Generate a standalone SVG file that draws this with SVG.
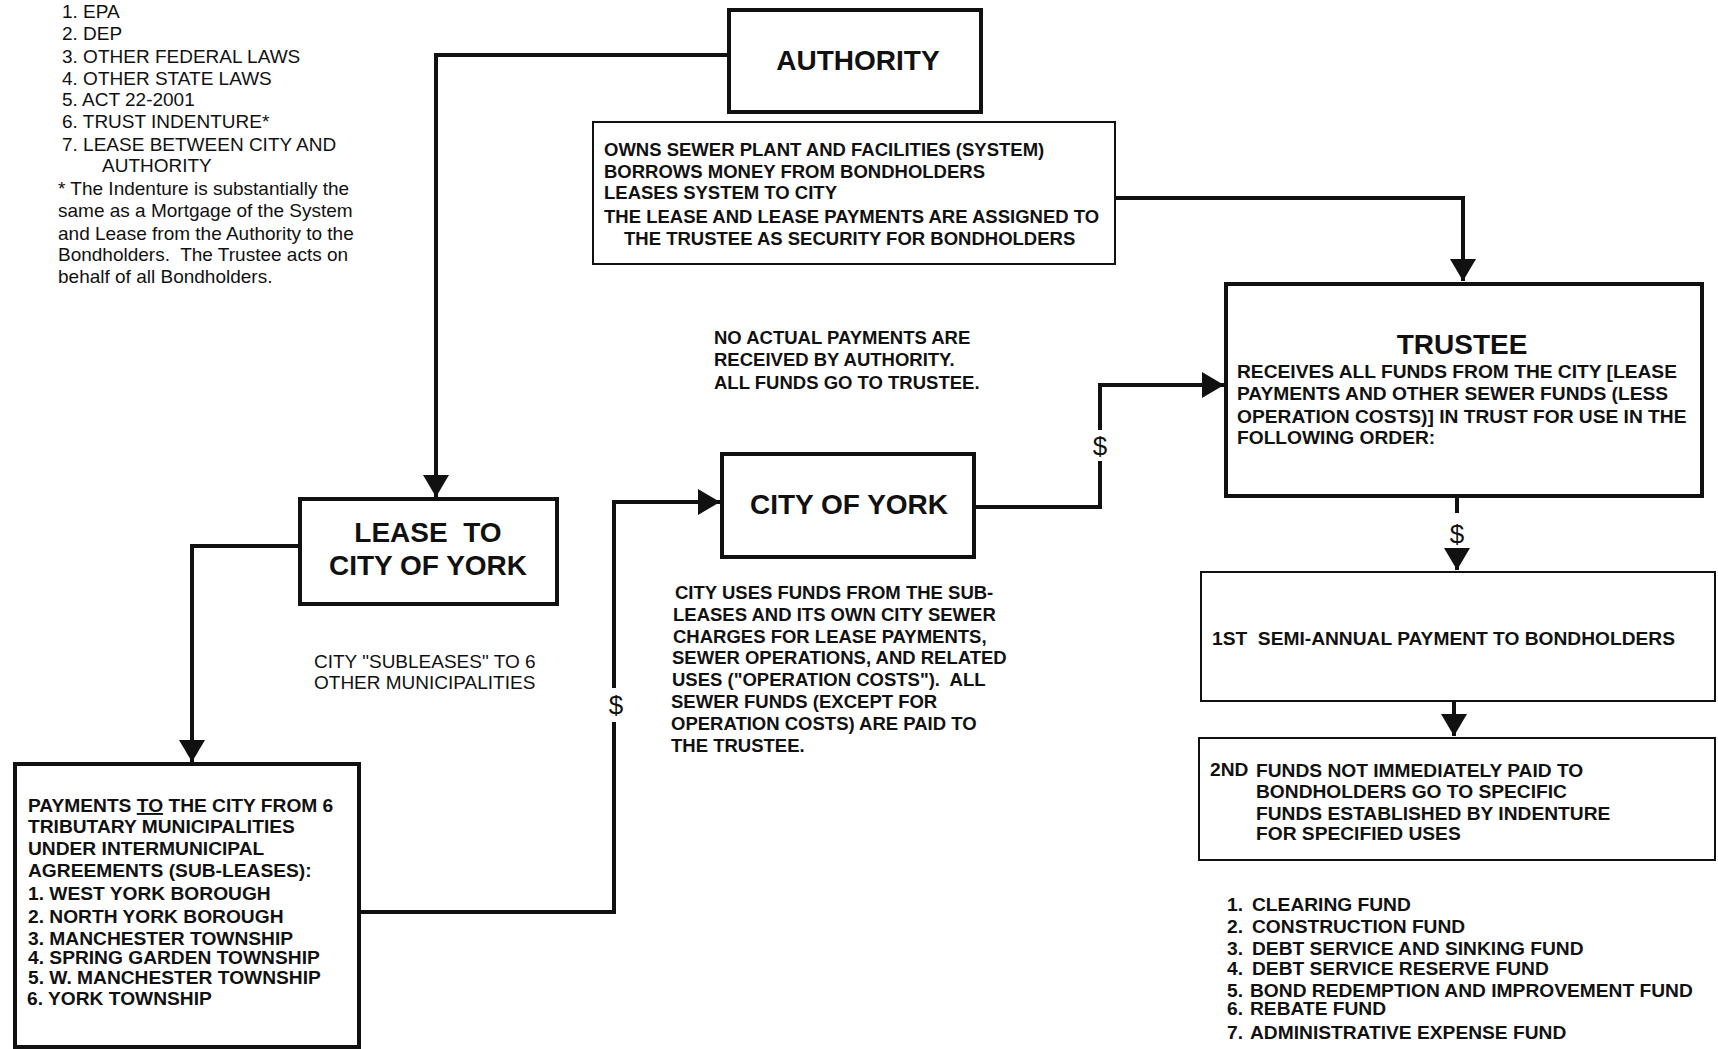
<svg xmlns="http://www.w3.org/2000/svg" width="1718" height="1049" viewBox="0 0 1718 1049">
<style>
.bg{fill:#ffffff}
.thick{fill:#ffffff;stroke:#111;stroke-width:4}
.thin{fill:#ffffff;stroke:#111;stroke-width:2}
.conn{fill:none;stroke:#111;stroke-width:4}
text{font-family:"Liberation Sans",Arial,sans-serif;fill:#111}
.title{font-size:28px;font-weight:bold}
.b{font-size:18.5px;font-weight:bold}
.b19{font-size:19.2px;font-weight:bold}
.r{font-size:19px}
.dollar{font-size:26px}
</style>
<defs>
<marker id="arr" markerUnits="userSpaceOnUse" markerWidth="24" markerHeight="26" refX="22" refY="13" orient="auto">
<path d="M0,0 L22,13 L0,26 z" fill="#111"/>
</marker>
</defs>
<rect class="bg" x="0" y="0" width="1718" height="1049"/>
<g id="legend">
<text class="r" x="62" y="18">1. EPA</text>
<text class="r" x="62" y="40">2. DEP</text>
<text class="r" x="62" y="63">3. OTHER FEDERAL LAWS</text>
<text class="r" x="62" y="85">4. OTHER STATE LAWS</text>
<text class="r" x="62" y="106">5. ACT 22-2001</text>
<text class="r" x="62" y="128">6. TRUST INDENTURE*</text>
<text class="r" x="62" y="151">7. LEASE BETWEEN CITY AND</text>
<text class="r" x="102" y="172">AUTHORITY</text>
<text class="r" x="58" y="195">* The Indenture is substantially the</text>
<text class="r" x="58" y="217">same as a Mortgage of the System</text>
<text class="r" x="58" y="240">and Lease from the Authority to the</text>
<text class="r" x="58" y="261">Bondholders.&#160; The Trustee acts on</text>
<text class="r" x="58" y="283">behalf of all Bondholders.</text>
</g>
<g id="connectors">
<polyline class="conn" points="729,55 436,55 436,497" marker-end="url(#arr)"/>
<polyline class="conn" points="1115,198 1463,198 1463,281" marker-end="url(#arr)"/>
<polyline class="conn" points="300,546 192,546 192,762" marker-end="url(#arr)"/>
<polyline class="conn" points="359,912 614,912 614,722"/>
<polyline class="conn" points="614,688 614,502 720,502" marker-end="url(#arr)"/>
<text class="dollar" x="616" y="714" text-anchor="middle">$</text>
<polyline class="conn" points="974,507 1100,507 1100,461"/>
<polyline class="conn" points="1100,430 1100,385 1224,385" marker-end="url(#arr)"/>
<text class="dollar" x="1100" y="455" text-anchor="middle">$</text>
<line class="conn" x1="1457" y1="496" x2="1457" y2="513"/>
<text class="dollar" x="1457" y="543" text-anchor="middle">$</text>
<line class="conn" x1="1457" y1="550" x2="1457" y2="570" marker-end="url(#arr)"/>
<line class="conn" x1="1454" y1="701" x2="1454" y2="736" marker-end="url(#arr)"/>
</g>
<g id="authority">
<rect class="thick" x="729" y="10" width="252" height="102"/>
<text class="title" x="858" y="70" text-anchor="middle">AUTHORITY</text>
</g>
<g id="authority-desc">
<rect class="thin" x="593" y="122" width="522" height="142"/>
<text class="b" x="604" y="156">OWNS SEWER PLANT AND FACILITIES (SYSTEM)</text>
<text class="b" x="604" y="178">BORROWS MONEY FROM BONDHOLDERS</text>
<text class="b" x="604" y="199">LEASES SYSTEM TO CITY</text>
<text class="b" x="604" y="223">THE LEASE AND LEASE PAYMENTS ARE ASSIGNED TO</text>
<text class="b" x="624" y="245">THE TRUSTEE AS SECURITY FOR BONDHOLDERS</text>
</g>
<g id="note">
<text class="b" x="714" y="344">NO ACTUAL PAYMENTS ARE</text>
<text class="b" x="714" y="366">RECEIVED BY AUTHORITY.</text>
<text class="b" x="714" y="389">ALL FUNDS GO TO TRUSTEE.</text>
</g>
<g id="trustee">
<rect class="thick" x="1226" y="284" width="476" height="212"/>
<text class="title" x="1462" y="354" text-anchor="middle">TRUSTEE</text>
<text class="b19" x="1237" y="378">RECEIVES ALL FUNDS FROM THE CITY [LEASE</text>
<text class="b19" x="1237" y="400">PAYMENTS AND OTHER SEWER FUNDS (LESS</text>
<text class="b19" x="1237" y="423">OPERATION COSTS)] IN TRUST FOR USE IN THE</text>
<text class="b19" x="1237" y="444">FOLLOWING ORDER:</text>
</g>
<g id="city-of-york">
<rect class="thick" x="722" y="454" width="252" height="103"/>
<text class="title" x="849" y="514" text-anchor="middle">CITY OF YORK</text>
</g>
<g id="city-note">
<text class="b" x="675" y="599">CITY USES FUNDS FROM THE SUB-</text>
<text class="b" x="673" y="621">LEASES AND ITS OWN CITY SEWER</text>
<text class="b" x="673" y="643">CHARGES FOR LEASE PAYMENTS,</text>
<text class="b" x="672" y="664">SEWER OPERATIONS, AND RELATED</text>
<text class="b" x="672" y="686">USES ("OPERATION COSTS").&#160; ALL</text>
<text class="b" x="671" y="708">SEWER FUNDS (EXCEPT FOR</text>
<text class="b" x="671" y="730">OPERATION COSTS) ARE PAID TO</text>
<text class="b" x="671" y="752">THE TRUSTEE.</text>
</g>
<g id="lease">
<rect class="thick" x="300" y="499" width="257" height="105"/>
<text class="title" x="428" y="542" text-anchor="middle">LEASE&#160; TO</text>
<text class="title" x="428" y="575" text-anchor="middle">CITY OF YORK</text>
</g>
<g id="sublease-note">
<text class="r" x="314" y="668">CITY "SUBLEASES" TO 6</text>
<text class="r" x="314" y="689">OTHER MUNICIPALITIES</text>
</g>
<g id="payments">
<rect class="thick" x="15" y="764" width="344" height="283"/>
<text class="b19" x="28" y="812">PAYMENTS <tspan text-decoration="underline">TO</tspan> THE CITY FROM 6</text>
<text class="b19" x="28" y="833">TRIBUTARY MUNICIPALITIES</text>
<text class="b19" x="28" y="855">UNDER INTERMUNICIPAL</text>
<text class="b19" x="28" y="877">AGREEMENTS (SUB-LEASES):</text>
<text class="b19" x="28" y="900">1. WEST YORK BOROUGH</text>
<text class="b19" x="28" y="923">2. NORTH YORK BOROUGH</text>
<text class="b19" x="28" y="945">3. MANCHESTER TOWNSHIP</text>
<text class="b19" x="28" y="964">4. SPRING GARDEN TOWNSHIP</text>
<text class="b19" x="28" y="984">5. W. MANCHESTER TOWNSHIP</text>
<text class="b19" x="27" y="1005">6. YORK TOWNSHIP</text>
</g>
<g id="first">
<rect class="thin" x="1201" y="572" width="514" height="129"/>
<text class="b19" x="1212" y="645">1ST&#160; SEMI-ANNUAL PAYMENT TO BONDHOLDERS</text>
</g>
<g id="second">
<rect class="thin" x="1199" y="738" width="516" height="122"/>
<text class="b19" x="1210" y="776">2ND</text>
<text class="b19" x="1256" y="777">FUNDS NOT IMMEDIATELY PAID TO</text>
<text class="b19" x="1256" y="798">BONDHOLDERS GO TO SPECIFIC</text>
<text class="b19" x="1256" y="820">FUNDS ESTABLISHED BY INDENTURE</text>
<text class="b19" x="1256" y="840">FOR SPECIFIED USES</text>
</g>
<g id="funds">
<text class="b19" x="1227" y="911">1.</text><text class="b19" x="1252" y="911">CLEARING FUND</text>
<text class="b19" x="1227" y="933">2.</text><text class="b19" x="1252" y="933">CONSTRUCTION FUND</text>
<text class="b19" x="1227" y="955">3.</text><text class="b19" x="1252" y="955">DEBT SERVICE AND SINKING FUND</text>
<text class="b19" x="1227" y="975">4.</text><text class="b19" x="1252" y="975">DEBT SERVICE RESERVE FUND</text>
<text class="b19" x="1227" y="997">5.</text><text class="b19" x="1250" y="997">BOND REDEMPTION AND IMPROVEMENT FUND</text>
<text class="b19" x="1227" y="1015">6.</text><text class="b19" x="1250" y="1015">REBATE FUND</text>
<text class="b19" x="1227" y="1039">7.</text><text class="b19" x="1250" y="1039">ADMINISTRATIVE EXPENSE FUND</text>
</g>
</svg>
